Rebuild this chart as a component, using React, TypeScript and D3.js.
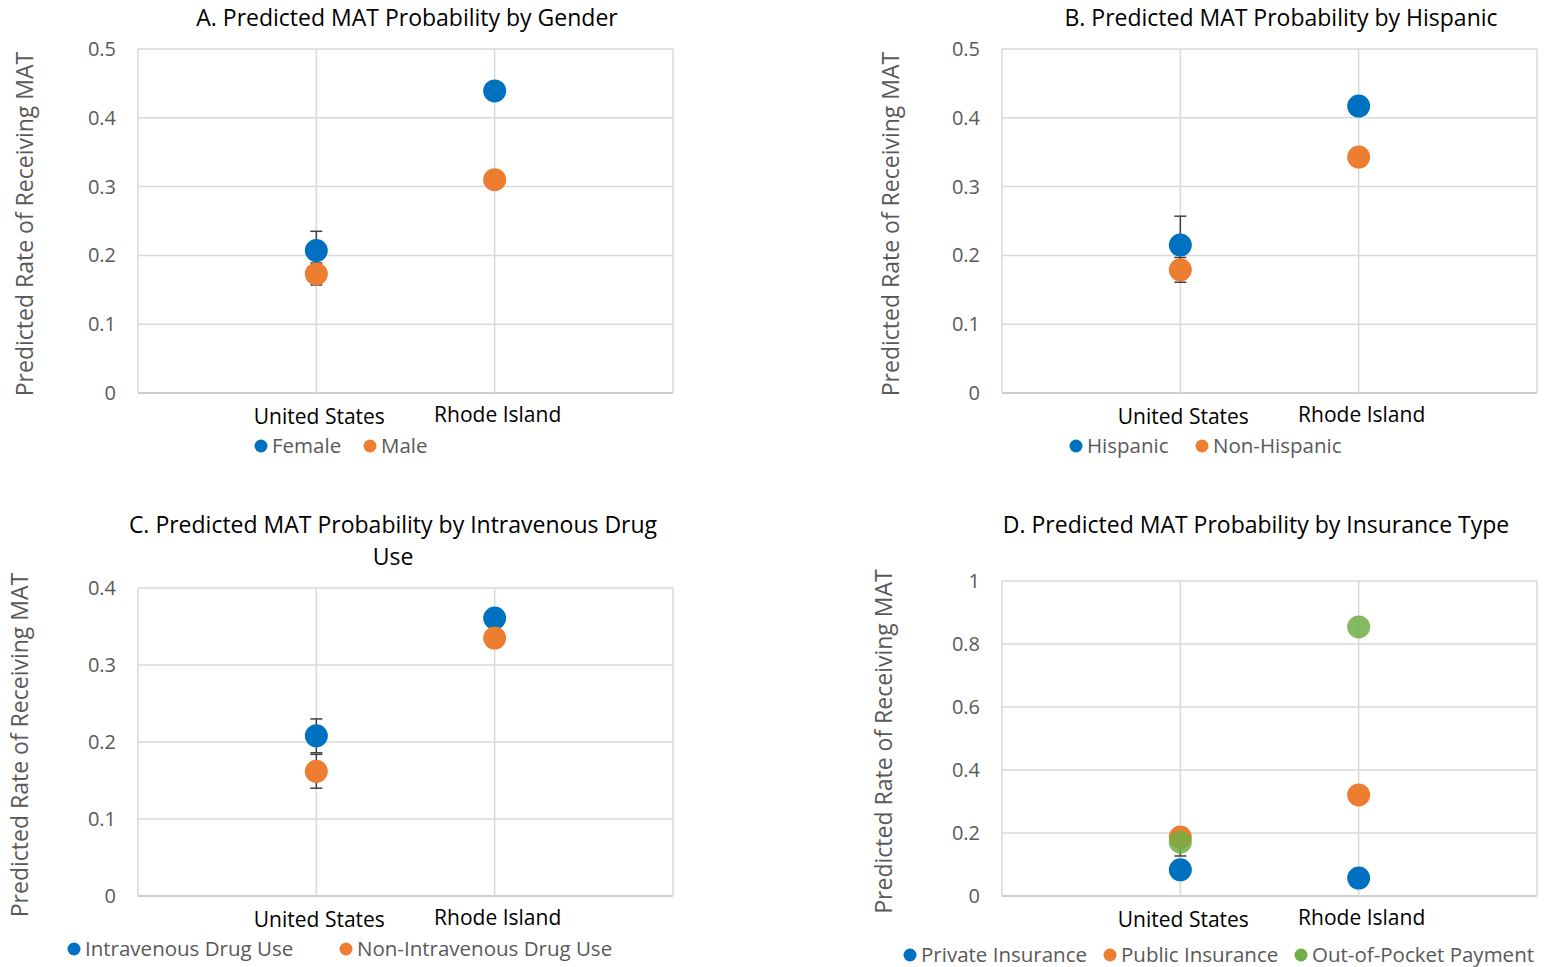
import React from "react";
import * as d3 from "d3";

const categories = ["United States", "Rhode Island"];

// panel A
const genderSeries = ["Female", "Male"];
const genderValues = [
  [0.207, 0.439],
  [0.173, 0.31],
];
const genderErrUp = [
  [0.028, 0],
  [0.016, 0],
];
const genderErrDown = [
  [0.028, 0],
  [0.016, 0],
];

// panel B
const hispanicSeries = ["Hispanic", "Non-Hispanic"];
const hispanicValues = [
  [0.215, 0.417],
  [0.179, 0.343],
];
const hispanicErrUp = [
  [0.042, 0],
  [0.018, 0],
];
const hispanicErrDown = [
  [0.042, 0],
  [0.018, 0],
];

// panel C
const drugSeries = ["Intravenous Drug Use", "Non-Intravenous Drug Use"];
const drugValues = [
  [0.208, 0.361],
  [0.162, 0.335],
];
const drugErrUp = [
  [0.022, 0],
  [0.022, 0],
];
const drugErrDown = [
  [0.022, 0],
  [0.022, 0],
];

// panel D
const insuranceSeries = ["Private Insurance", "Public Insurance", "Out-of-Pocket Payment"];
const insuranceValues = [
  [0.083, 0.057],
  [0.187, 0.321],
  [0.171, 0.854],
];
const insuranceErrUp = [
  [0, 0],
  [0, 0],
  [0, 0],
];
const insuranceErrDown = [
  [0, 0],
  [0, 0],
  [0.044, 0],
];

const colors = ["#0070C0", "#ED7D31", "#70AD47"];
const font = "'Open Sans', sans-serif";
const textColor = "#595959";

type PanelProps = {
  title: string[];
  series: string[];
  values: number[][];
  errUp: number[][];
  errDown: number[][];
  yMax: number;
  yStep: number;
  x0: number;
  x1: number;
  yTop: number;
  yBottom: number;
  titleX: number;
  titleY: number;
  axisTitleX: number;
  legendY: number;
  legendX: number[];
};

const Panel = (p: PanelProps) => {
  const x = d3.scaleLinear().domain([0, 3]).range([p.x0, p.x1]);
  const y = d3.scaleLinear().domain([0, p.yMax]).range([p.yBottom, p.yTop]);
  const ticks = d3.range(0, p.yMax + p.yStep / 2, p.yStep);
  const fmt = (v: number) => String(+v.toFixed(1));

  return (
    <g fontFamily={font}>
      {p.title.map((t, i) => (
        <text
          key={i}
          x={p.titleX}
          y={p.titleY + i * 32}
          textAnchor="middle"
          fontSize={23}
          fill="#000"
        >
          {t}
        </text>
      ))}
      {/* gridlines */}
      {ticks.map((t) => (
        <line
          key={t}
          x1={p.x0}
          x2={p.x1}
          y1={y(t)}
          y2={y(t)}
          stroke={t === 0 ? "#bfbfbf" : "#d9d9d9"}
          strokeWidth={1.5}
        />
      ))}
      {[0, 1, 2, 3].map((v) => (
        <line key={v} x1={x(v)} x2={x(v)} y1={p.yTop} y2={p.yBottom} stroke="#d9d9d9" strokeWidth={1.5} />
      ))}
      {ticks.map((t) => (
        <text
          key={t}
          x={p.x0 - 22}
          y={y(t)}
          dy="0.35em"
          textAnchor="end"
          fontSize={20}
          fill={textColor}
        >
          {fmt(t)}
        </text>
      ))}
      <text
        transform={`translate(${p.axisTitleX},${(p.yTop + p.yBottom) / 2 + 3}) rotate(-90)`}
        textAnchor="middle"
        fontSize={23}
        fill={textColor}
      >
        Predicted Rate of Receiving MAT
      </text>
      {categories.map((c, i) => (
        <text
          key={c}
          x={x(i + 1) + 3}
          y={p.yBottom + 24 - i * 2}
          dy="0.35em"
          textAnchor="middle"
          fontSize={21}
          fill="#000"
        >
          {c}
        </text>
      ))}
      {/* error bars */}
      {p.values.map((vals, s) =>
        vals.map((v, i) => {
          const cx = x(i + 1);
          const up = p.errUp[s][i];
          const dn = p.errDown[s][i];
          if (!up && !dn) return null;
          const top = y(v + up);
          const bot = y(v - dn);
          return (
            <g key={`${s}-${i}`} stroke="#404040" strokeWidth={1.5}>
              <line x1={cx} x2={cx} y1={top} y2={bot} />
              {up > 0 && <line x1={cx - 6} x2={cx + 6} y1={top} y2={top} />}
              {dn > 0 && <line x1={cx - 6} x2={cx + 6} y1={bot} y2={bot} />}
            </g>
          );
        })
      )}
      {/* markers */}
      {p.values.map((vals, s) =>
        vals.map((v, i) => (
          <circle
            key={`${s}-${i}`}
            cx={x(i + 1)}
            cy={y(v)}
            r={11.5}
            fill={colors[s]}
            fillOpacity={s === 2 ? 0.85 : 1}
          />
        ))
      )}
      {/* legend */}
      {p.series.map((name, s) => (
        <g key={name} transform={`translate(${p.legendX[s]},${p.legendY})`}>
          <circle cx={0} cy={0} r={6.5} fill={colors[s]} />
          <text x={11} y={0} dy="0.35em" fontSize={20.5} fill={textColor}>
            {name}
          </text>
        </g>
      ))}
    </g>
  );
};

const App = () => (
  <svg width={1548} height={967} style={{ position: "absolute", left: 0, top: 0 }}>
    <rect width={1548} height={967} fill="#fff" />
    <Panel
      title={["A. Predicted MAT Probability by Gender"]}
      series={genderSeries}
      values={genderValues}
      errUp={genderErrUp}
      errDown={genderErrDown}
      yMax={0.5}
      yStep={0.1}
      x0={138}
      x1={673}
      yTop={49}
      yBottom={393}
      titleX={407}
      titleY={26}
      axisTitleX={33}
      legendY={446}
      legendX={[261, 370]}
    />
    <Panel
      title={["B. Predicted MAT Probability by Hispanic"]}
      series={hispanicSeries}
      values={hispanicValues}
      errUp={hispanicErrUp}
      errDown={hispanicErrDown}
      yMax={0.5}
      yStep={0.1}
      x0={1002}
      x1={1537}
      yTop={49}
      yBottom={393}
      titleX={1281}
      titleY={26}
      axisTitleX={899}
      legendY={446}
      legendX={[1076, 1202]}
    />
    <Panel
      title={["C. Predicted MAT Probability by Intravenous Drug", "Use"]}
      series={drugSeries}
      values={drugValues}
      errUp={drugErrUp}
      errDown={drugErrDown}
      yMax={0.4}
      yStep={0.1}
      x0={138}
      x1={673}
      yTop={588}
      yBottom={896}
      titleX={393}
      titleY={533}
      axisTitleX={28}
      legendY={949}
      legendX={[74, 346]}
    />
    <Panel
      title={["D. Predicted MAT Probability by Insurance Type"]}
      series={insuranceSeries}
      values={insuranceValues}
      errUp={insuranceErrUp}
      errDown={insuranceErrDown}
      yMax={1}
      yStep={0.2}
      x0={1002}
      x1={1537}
      yTop={581}
      yBottom={896}
      titleX={1256}
      titleY={533}
      axisTitleX={892}
      legendY={955}
      legendX={[910, 1110, 1301]}
    />
  </svg>
);

export default App;
